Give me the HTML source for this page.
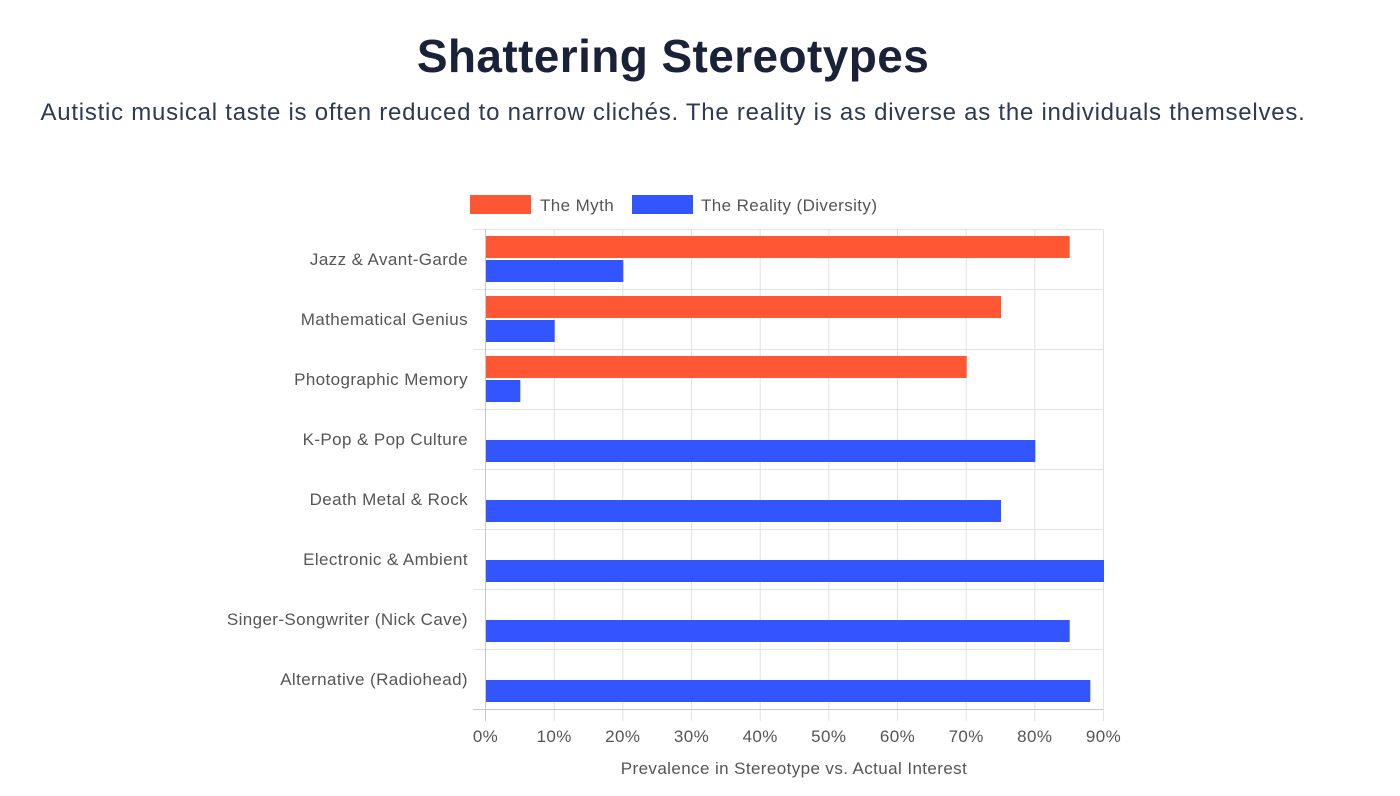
<!DOCTYPE html>
<html><head><meta charset="utf-8"><style>
body{margin:0;background:#fff;width:1400px;height:796px;overflow:hidden;font-family:"Liberation Sans",sans-serif}
h1{position:absolute;top:29px;left:0;width:1346px;text-align:center;margin:0;font-size:46px;font-weight:bold;color:#1a2238;letter-spacing:0.4px}
p{position:absolute;top:99px;left:0;width:1346px;text-align:center;margin:0;font-size:24px;color:#2c3a52;letter-spacing:0.75px;white-space:nowrap}
svg{position:absolute;left:0;top:0}
svg text{letter-spacing:0.4px}
</style></head><body>
<h1>Shattering Stereotypes</h1>
<p>Autistic musical taste is often reduced to narrow clichés. The reality is as diverse as the individuals themselves.</p>
<svg width="1400" height="796" font-family="Liberation Sans, sans-serif">
<rect x="470" y="195" width="61" height="19" fill="#FF5733"/>
<text x="540" y="211" font-size="17" fill="#555">The Myth</text>
<rect x="632" y="195" width="61" height="19" fill="#3355FF"/>
<text x="701" y="211" font-size="17" fill="#555">The Reality (Diversity)</text>
<g stroke="#e2e2e2" stroke-width="1">
<line x1="485.5" y1="229" x2="485.5" y2="721"/>
<line x1="554.2" y1="229" x2="554.2" y2="721"/>
<line x1="622.8" y1="229" x2="622.8" y2="721"/>
<line x1="691.5" y1="229" x2="691.5" y2="721"/>
<line x1="760.2" y1="229" x2="760.2" y2="721"/>
<line x1="828.8" y1="229" x2="828.8" y2="721"/>
<line x1="897.5" y1="229" x2="897.5" y2="721"/>
<line x1="966.2" y1="229" x2="966.2" y2="721"/>
<line x1="1034.8" y1="229" x2="1034.8" y2="721"/>
<line x1="1103.5" y1="229" x2="1103.5" y2="721"/>
<line x1="473" y1="229.5" x2="1103" y2="229.5"/>
<line x1="473" y1="289.5" x2="1103" y2="289.5"/>
<line x1="473" y1="349.5" x2="1103" y2="349.5"/>
<line x1="473" y1="409.5" x2="1103" y2="409.5"/>
<line x1="473" y1="469.5" x2="1103" y2="469.5"/>
<line x1="473" y1="529.5" x2="1103" y2="529.5"/>
<line x1="473" y1="589.5" x2="1103" y2="589.5"/>
<line x1="473" y1="649.5" x2="1103" y2="649.5"/>
</g>
<line x1="473" y1="709.5" x2="1103" y2="709.5" stroke="#c8c8c8"/>
<line x1="485.5" y1="229" x2="485.5" y2="721" stroke="#c8c8c8"/>
<g fill="#FF5733">
<rect x="486" y="236" width="583.7" height="22"/>
<rect x="486" y="296" width="515" height="22"/>
<rect x="486" y="356" width="480.7" height="22"/>
</g>
<g fill="#3355FF">
<rect x="486" y="260" width="137.3" height="22"/>
<rect x="486" y="320" width="68.7" height="22"/>
<rect x="486" y="380" width="34.3" height="22"/>
<rect x="486" y="440" width="549.3" height="22"/>
<rect x="486" y="500" width="515" height="22"/>
<rect x="486" y="560" width="618" height="22"/>
<rect x="486" y="620" width="583.7" height="22"/>
<rect x="486" y="680" width="604.3" height="22"/>
</g>
<g font-size="17" fill="#555" text-anchor="end">
<text x="468" y="265">Jazz &amp; Avant-Garde</text>
<text x="468" y="325">Mathematical Genius</text>
<text x="468" y="385">Photographic Memory</text>
<text x="468" y="445">K-Pop &amp; Pop Culture</text>
<text x="468" y="505">Death Metal &amp; Rock</text>
<text x="468" y="565">Electronic &amp; Ambient</text>
<text x="468" y="625">Singer-Songwriter (Nick Cave)</text>
<text x="468" y="685">Alternative (Radiohead)</text>
</g>
<g font-size="17" fill="#555" text-anchor="middle">
<text x="485.5" y="742">0%</text>
<text x="554.2" y="742">10%</text>
<text x="622.8" y="742">20%</text>
<text x="691.5" y="742">30%</text>
<text x="760.2" y="742">40%</text>
<text x="828.8" y="742">50%</text>
<text x="897.5" y="742">60%</text>
<text x="966.2" y="742">70%</text>
<text x="1034.8" y="742">80%</text>
<text x="1103.5" y="742">90%</text>
<text x="794" y="774">Prevalence in Stereotype vs. Actual Interest</text>
</g>
</svg>
</body></html>
